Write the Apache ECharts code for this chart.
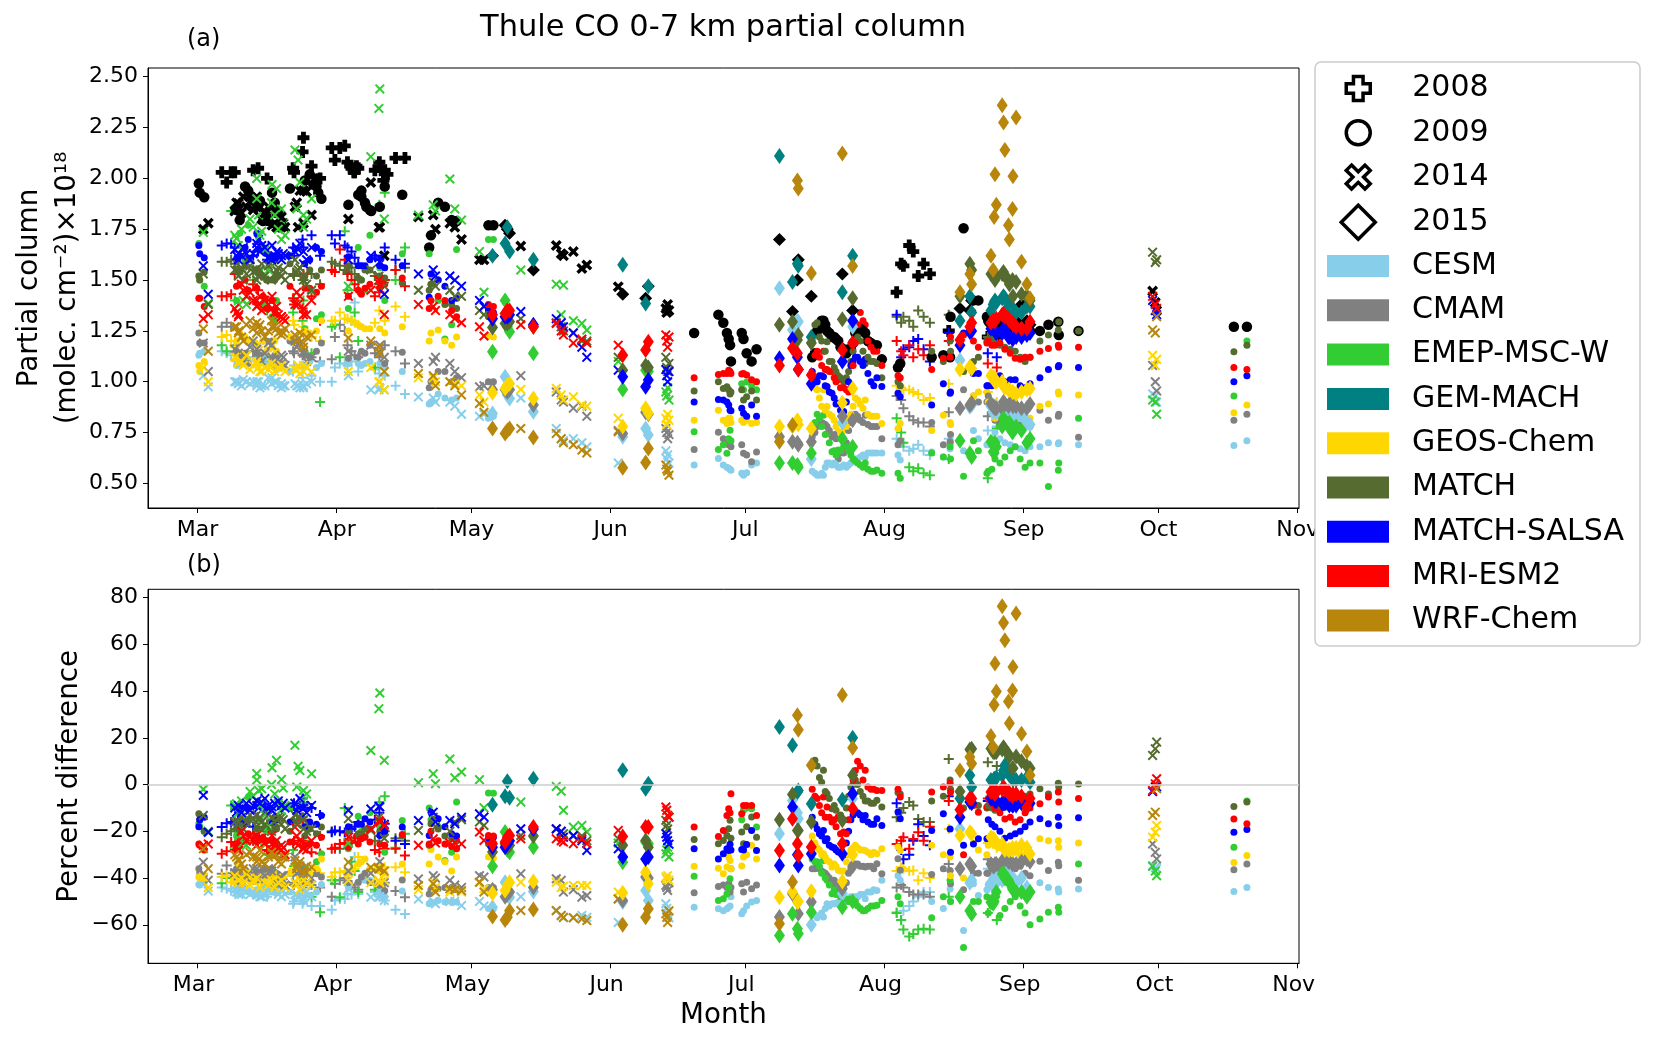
<!DOCTYPE html>
<html><head><meta charset="utf-8">
<style>html,body{margin:0;padding:0;background:#fff}#c{width:1656px;height:1037px}</style>
<script src="https://cdn.jsdelivr.net/npm/echarts@6/dist/echarts.min.js"></script>
</head><body><div id="c"></div>
<script>
const monthTicks=[60,91,121,152,182,213,244,274,305];
const monthLabels=['Mar','Apr','May','Jun','Jul','Aug','Sep','Oct','Nov'];
const ticksA=[0.5,0.75,1,1.25,1.5,1.75,2,2.25,2.5];
const ticksB=[-60,-40,-20,0,20,40,60,80];
const years=[2008,2009,2014,2015];
const models=['CESM','CMAM','EMEP-MSC-W','GEM-MACH','GEOS-Chem','MATCH','MATCH-SALSA','MRI-ESM2','WRF-Chem'];
const colors=['#87ceeb','#808080','#32cd32','#008080','#ffd700','#556b2f','#0000ff','#ff0000','#b8860b'];

// 2008
const days08=[65.4,66.5,67.5,68.3,72.4,73.5,75.5,81.3,81.5,83.4,83.6,85.4,87.3,89.9,90.6,91.7,92.8,93.4,94.3,95,95.8,99.5,100.5,101.7,104.1,106.2,215.7,216.7,217.2,218.5,219.4,220.5,221.7,223.1,227.3,236,238];
const obs08=[2.03,1.98,2.03,2.03,2.04,2.05,2,2.05,2.03,2.13,2.2,2.06,2,2.15,2.09,2.15,2.16,2.08,2.05,2.03,2.05,2.04,2.08,2.04,2.1,2.1,1.44,1.58,1.57,1.67,1.64,1.52,1.58,1.53,1.25,1.22,1.22];
const cesmA08=[1.15,1.14,1.13,1.11,1.12,1.1,1.1,1.05,1.08,1.02,1.08,1.03,1,1,1.07,1.09,1.09,1.08,1.1,1.39,1.05,1.06,1.04,1.03,.98,.94,.72,.7,.68,.66,.67,.69,.66,.64,.72,.76,.78];
const cmamA08=[1.27,1.29,1.27,1.18,1.15,1.14,1.12,1.15,1.14,1.13,1.15,1.12,1.1,1.11,1.22,1.28,1.25,1.18,1.15,1.13,1.12,1.14,1.12,1.18,1.15,1.09,.93,.91,.87,.83,.81,.8,.8,.78,.85,.83,.82];
const emepA08=[1.18,1.15,1.84,1.4,1.5,1.55,1.35,1.34,1.4,1.3,1.4,1.14,.9,1.27,1.28,1.12,1.74,1.45,1.3,1.34,1.2,1.07,1.87,1.93,1.5,1.66,.82,.75,.7,.58,.56,.575,.55,.54,.62,.525,.77];
const geosA08=[1.22,1.23,1.2,1.17,1.2,1.17,1.15,1.3,1.28,1.25,1.27,1.22,1.2,1.3,1.3,1.34,1.31,1.31,1.3,1.29,1.28,1.29,1.35,1.3,1.37,1.32,.98,.97,.96,.96,.95,.94,.91,.92,.99,.95,.9];
const matchA08=[1.59,1.59,1.6,1.58,1.55,1.54,1.56,1.53,1.52,1.5,1.5,1.53,1.48,1.59,1.58,1.57,1.55,1.54,1.56,1.53,1.5,1.52,1.48,1.5,1.55,1.56,1.32,1.29,1.32,1.3,1.27,1.35,1.32,1.29,1.33,1.22,1.2];
const salsaA08=[1.67,1.68,1.68,1.66,1.62,1.64,1.6,1.66,1.62,1.7,1.66,1.72,1.62,1.72,1.68,1.72,1.67,1.66,1.64,1.61,1.58,1.62,1.6,1.66,1.6,1.58,1.33,1.12,1.16,1.17,1.2,1.21,1.16,1.1,1.24,1.14,1.12];
const mriA08=[1.42,1.42,1.43,1.53,1.48,1.45,1.4,1.41,1.38,1.36,1.53,1.42,1.3,1.55,1.54,1.65,1.6,1.53,1.5,1.48,1.45,1.42,1.44,1.5,1.55,1.47,1.2,1.15,1.13,1.18,1.12,1.16,1.13,1.18,1.2,1.09,1.07];
const cesmB08=[-44,-44.6,-45.4,-46,-47,-47,-48,-51,-50,-51,-50,-52,-52,-53.6,-49.6,-49,-49,-46.8,-47,-31,-46.8,-46,-48,-49.6,-53.6,-55.4,-54.6,-58,-54,-52,-50,-48,-46,-46,-37,-36,-37];
const cmamB08=[-38.2,-34.6,-38,-42,-41,-40,-42,-42,-43,-44,-43,-43,-44,-48,-42.5,-41,-40,-42,-43,-44,-45,-43,-44,-42,-45.6,-48.2,-44,-43,-44,-46,-47,-47,-47,-48,-34,-32,-34];
const emepB08=[-42.2,-40,-8.9,-27,-24,-22,-30,-28,-35,-40,-35,-48,-54.6,-41,-41,-48.2,-10,-25,-33,-37,-46,-45,-7.5,-5,-27,-21,-55,-58,-62,-65,-64,-62,-61.7,-62,-48,-55,-58];
const geosB08=[-39.6,-39,-41.8,-41,-39,-41,-40,-36,-37,-37,-38,-36,-38,-39.6,-37.5,-37.5,-37,-38,-36.5,-36,-31,-36,-34,-35.4,-35.4,-37.5,-37,-35.4,-36,-37,-36.8,-41,-38,-40,-19,-25,-27];
const matchB08=[-22.5,-21,-20,-19,-21,-18,-17,-16,-15,-14,-15,-18,-22,-20,-27.5,-27.5,-25,-25,-25,-23,-22,-24,-22,-20,-23,-24,-14,-12,-10,-7.5,-9,-14.7,-16,-16,11,9.6,8];
const salsaB08=[-18.2,-16.5,-16,-17,-18,-14,-12,-9,-8,-6,-9,-10,-13,-20.4,-19.6,-20,-20.5,-20,-19,-18,-16,-15,-12,-16.8,-24,-25.4,-8,-28,-32,-30,-24,-17,-22,-26,-5,-7,-8];
const mriB08=[-29.6,-28.5,-24.6,-28,-24,-25,-28,-25,-24,-15.4,-24,-29,-29.5,-27.5,-27,-25.4,-25,-25,-24,-23,-22,-28,-29,-27.5,-27.5,-30.4,-25.4,-24,-22.5,-27.5,-23.3,-20.4,-24,-18,-7,-6,-8];
const obsDays08x=[94,94.8,95.4,100.9,102.3,101.4];
const obs08x=[2.06,2.03,2.06,2.04,2.02,1.99];

// 2009
const days09=[60.3,60.5,61.5,68.7,69.4,70.6,71.3,73.2,74.6,75.4,76.6,77.2,77.6,80.6,83.9,85,86.5,87.6,93.6,95.8,96.5,97.3,98.4,100.6,101.7,105.6,111.6,112,113.6,115.1,116.6,117.7,124.8,125.9,170.6,176,177.1,177.9,178.3,178.6,178.8,181.2,181.6,182.3,183.4,184.5,199.4,200.2,201.3,202.7,203.9,208.7,211.3,212.4,216,216.5,223.5,226.1,227.6,227.7,230.6,232.8,233.9,235.8,247.6,249.5,251.7,251.8,256.2,290.8,293.7];
const obs09=[1.975,1.93,1.907,1.845,1.795,1.96,1.94,1.88,1.79,1.81,1.93,1.88,1.83,1.95,1.99,2.02,1.96,1.9,1.87,1.92,1.94,1.88,1.845,1.86,1.96,1.92,1.66,1.72,1.88,1.86,1.795,1.79,1.77,1.77,1.24,1.33,1.29,1.24,1.21,1.18,1.1,1.24,1.21,1.14,1.1,1.16,1.3,1.25,1.22,1.2,1.16,1.24,1.18,1.11,1.07,1.09,1.12,1.13,1.12,1.32,1.755,1.4,1.4,1.32,1.25,1.28,1.295,1.23,1.25,1.27,1.27];
const cesmA09=[1.13,1.14,1.15,1.08,1.1,1.14,1.1,1.14,1.12,1.1,1.09,1.07,1.06,1.05,1.08,1.1,1.07,1.09,1.09,1.09,1.08,1.09,1.1,1.09,1.07,1.05,.89,.9,.94,.92,.91,.92,.82,.83,.59,.623,.59,.58,.574,.57,.565,.55,.54,.552,.59,.6,.54,.6,.59,.58,.59,.63,.65,.65,.64,.615,.655,.63,.67,.7,.66,.76,.72,.69,.68,.7,.695,.7,.69,.686,.71];
const cmamA09=[1.24,1.19,1.19,1.15,1.14,1.14,1.09,1.14,1.2,1.2,1.2,1.13,1.12,1.2,1.13,1.12,1.15,1.19,1.115,1.12,1.15,1.14,1.18,1.14,1.09,1.145,.97,1,1.05,1.05,1,1.02,1,1,.667,.751,.72,.697,.69,.7,.68,.69,.648,.64,.607,.655,.795,.78,.73,.62,.65,.835,.78,.72,.69,.71,.8,.69,.705,.74,.96,.93,.9,.9,.86,.81,.83,.84,.727,.81,.84];
const emepA09=[1.68,1.5,1.47,1.4,1.73,1.6,1.77,1.55,1.38,1.5,1.32,1.3,1.4,1.62,1.26,1.45,1.31,1.33,1.36,1.66,1.5,1.45,1.72,1.56,1.4,1.63,1.63,1.48,1.4,1.21,1.28,1.65,1.7,1.7,.754,.667,.69,.648,.72,.762,.71,.99,.96,.999,.98,.96,.835,.746,.656,.664,.68,.6,.566,.55,.55,.525,.65,.63,.68,.62,.535,.71,.66,.55,.6,.485,.565,.6,.82,.93,1.2];
const geosA09=[1.08,1.05,1.1,1.2,1.24,1.22,1.2,1.18,1.2,1.15,1.17,1.2,1.15,1.22,1.25,1.24,1.25,1.3,1.25,1.28,1.27,1.26,1.26,1.26,1.24,1.27,1.2,1.24,1.255,1.2,1.18,1.22,1.225,1.22,.81,.86,.81,.795,.82,.82,.8,.81,.8,.81,.795,.8,.96,.878,.83,.755,.76,.91,.83,.795,.77,.795,.76,.835,.8,.79,1.05,.93,.95,.95,.88,.89,.95,.94,.935,.847,.885];
const matchA09=[1.52,1.5,1.54,1.55,1.54,1.57,1.6,1.55,1.52,1.5,1.5,1.5,1.52,1.58,1.52,1.55,1.52,1.55,1.57,1.51,1.5,1.55,1.55,1.52,1.51,1.485,1.45,1.48,1.5,1.38,1.38,1.36,1.32,1.33,.955,1,.967,.975,.96,.94,.95,.96,.91,.926,.955,.91,1.29,1.197,1.1,1.03,1,1.09,1.09,1.02,1,.98,1.15,1.1,1.2,1.15,1.05,1.1,1.12,1.2,1.2,1.23,1.255,1.295,1.25,1.147,1.18];
const salsaA09=[1.67,1.63,1.61,1.6,1.62,1.66,1.7,1.73,1.66,1.63,1.62,1.6,1.62,1.62,1.58,1.6,1.66,1.64,1.615,1.57,1.57,1.57,1.6,1.57,1.56,1.57,1.415,1.53,1.5,1.47,1.4,1.41,1.35,1.34,.9,.913,.91,.9,.885,.86,.857,.87,.845,.83,.885,.83,1.025,.976,.943,.894,.853,1.11,1.02,.976,.943,.926,.885,.99,.943,.95,1.24,1.04,1.04,.98,1.02,1.06,1.074,1.08,1.07,1,1.03];
const mriA09=[1.41,1.41,1.37,1.47,1.48,1.5,1.45,1.46,1.42,1.36,1.4,1.35,1.33,1.47,1.46,1.46,1.44,1.47,1.42,1.45,1.43,1.46,1.48,1.46,1.48,1.51,1.36,1.4,1.42,1.4,1.35,1.32,1.38,1.37,1.02,1.036,1.04,1.04,1.057,1.05,1.04,1.038,1.04,1.033,1.01,1,1.15,1.06,1.05,1.01,.97,1.28,1.15,1.08,1.03,1.02,1.06,1.115,1.12,1.22,1.23,1.2,1.17,1.19,1.15,1.164,1.18,1.17,1.17,1.07,1.06];
const cesmB09=[-42.8,-43,-42,-44.6,-44,-44,-46,-45,-44,-45,-46,-46,-46,-46,-47,-47.5,-46,-42.8,-44,-42,-40.4,-41,-41,-46,-48,-45.6,-51,-50.3,-49.6,-50.3,-50.3,-50.3,-53,-53.2,-52.5,-53.2,-54,-53.2,-52.5,-52,-48,-55.3,-54,-52,-50.3,-49.6,-56.7,-51,-51,-50.3,-48.9,-48.9,-45.3,-41,-39,-41,-50,-53,-44.7,-50,-62.5,-42.5,-47.5,-45,-42,-44,-44.7,-46,-44.7,-45.8,-44];
const cmamB09=[-36,-38,-39,-36,-37,-37.5,-40,-38,-36,-36,-36,-38,-38,-38,-42,-42,-38.2,-39.6,-42,-41.8,-39.6,-38,-41.8,-43,-45.4,-40.8,-46.8,-45,-44.6,-44,-44,-45,-44,-44,-46.3,-43.6,-43,-44,-42.5,-46,-44,-42.5,-46,-41.8,-44.6,-43,-37.5,-38.9,-42.5,-45.3,-44,-35.3,-33.9,-38.2,-31.7,-36.7,-38.5,-36,-36.8,-42.5,-45,-38,-38,-38,-32.8,-36.8,-33.2,-34.7,-41,-36.5,-34];
const emepB09=[-16.8,-18,-20,-22,-11,-15,-5.4,-15,-25,-20,-30,-30,-25,-10,-36,-25,-33,-29.6,-27.5,-13.6,-20,-22,-12,-18,-29,-15.4,-10,-15,-18,-32.5,-29,-7.5,-3.6,-3.7,-39.2,-49.6,-48.9,-46.8,-44,-40.3,-36,-15,-11,-10,-10.3,-18.2,-32.5,-41,-46.7,-51,-48.9,-53.9,-51.7,-49.6,-48,-51,-57,-48,-41,-50,-69.7,-50,-50,-48,-57.5,-54.6,-52.5,-54.6,-34,-26.8,-7];
const geosB09=[-39.6,-40,-41,-40,-34.6,-37,-40,-41,-40,-39,-40,-38,-40,-38,-39,-38,-36,-31.8,-38,-34,-33,-31.8,-36,-37,-38,-34,-34,-27.8,-31,-33,-37,-31,-31,-31.5,-35,-35.8,-38.2,-35.3,-31,-32.5,-36,-34.9,-31,-30,-26,-31.8,-29.6,-32.5,-35.3,-36.7,-37,-28.2,-29.6,-27.5,-26.7,-28.2,-26,-30,-31,-39,-40,-25,-28,-30,-23.2,-24,-24,-26.8,-25,-33.3,-30.4];
const matchB09=[-12.5,-15,-20,-19,-20,-17,-15,-19,-19,-18,-20,-18,-19,-20,-22,-19,-21,-18.2,-20,-21,-21,-19,-19,-20,-21,-22,-26,-16.8,-19,-22,-23,-24,-25.3,-25,-23.5,-25.3,-23.9,-21.8,-18.9,-15.3,-23,-20.3,-25.3,-18,-13.9,-22.5,6.1,-3.9,-10.3,-13.9,-15,-7,-6.7,-9.6,-3.4,-4,-7,-5,2,-2,-10,-8,-9,-10,-1.8,-4,.6,-1,.3,-9.4,-7.5];
const salsaB09=[-18,-15,-14,-16,-15,-16.8,-10,-8.2,-9,-11,-16,-14,-15,-16,-18,-16,-17,-13.2,-18,-16.8,-17,-14.6,-16,-21.8,-20,-18.2,-21.8,-11.8,-14.6,-18,-21,-22,-23,-22.5,-27.5,-31.8,-29.6,-27.5,-28.2,-25.5,-28,-27.8,-28,-25.6,-19.6,-28.2,-19.6,-23.2,-26.7,-28.9,-30,-13.2,-14.6,-17.5,-11.7,-14.6,-19.7,-12.5,-19,-29,-26,-25.4,-23.2,-23.2,-14.6,-16.8,-14,-17.5,-14.2,-20.4,-19.2];
const mriB09=[-25.4,-26,-28,-25,-24,-24,-21,-22,-23,-24,-24,-26,-27,-24.6,-26,-25.4,-26,-22.5,-26.8,-25.4,-23.2,-22.5,-24.6,-25.4,-26,-21.4,-25.4,-20,-24,-25.4,-26.5,-27.5,-21.8,-22,-18.2,-22.2,-19.6,-13.2,-10.3,-12,-3.9,-12.5,-9,-8.9,-9,-13.2,-5.3,-9.6,-16,-13.9,-20.3,6.1,-2.5,-2.5,-2,-5.3,-3.2,-1,.6,-3.2,-30,-9,-11.8,-9.6,-8.2,-5.3,-3.2,-7.5,-6,-14.7,-16.8];
// 2009, July run
const days09b=[196.9,197.5,198,198.5,199,199.8,200.7,201.8,202.2,203.2,204.5,205,205.5,206,206.5,207,207.6,208.2,209.3,210,210.6];
const obs09b=[1.12,1.14,1.25,1.27,1.3,1.28,1.24,1.22,1.21,1.17,1.14,1.16,1.16,1.19,1.24,1.27,1.26,1.25,1.2,1.19,1.18];
const cesmA09b=[.56,.55,.54,.54,.55,.58,.6,.6,.59,.58,.58,.59,.6,.61,.62,.62,.63,.64,.65,.65,.65];
const cmamA09b=[.73,.75,.78,.8,.8,.79,.76,.74,.72,.65,.7,.76,.8,.82,.84,.83,.81,.8,.79,.78,.78];
const emepA09b=[.78,.8,.84,.82,.78,.74,.7,.66,.64,.66,.68,.66,.64,.62,.61,.6,.59,.58,.57,.56,.56];
const geosA09b=[.98,.97,.96,.92,.88,.86,.84,.81,.78,.75,.78,.82,.84,.88,.92,.91,.89,.87,.84,.83,.83];
const matchA09b=[1.2,1.28,1.29,1.22,1.2,1.15,1.1,1.07,1.05,1.02,1.02,1.05,1.1,1.15,1.2,1.22,1.2,1.15,1.12,1.1,1.1];
const salsaA09b=[1.05,1.02,1,1.03,1.03,.98,.95,.92,.89,.86,.9,1,1.08,1.1,1.12,1.12,1.1,1.08,1.04,1,.98];
const mriA09b=[1.03,1.13,1.15,1.12,1.08,1.06,1.05,1.02,1,.97,.96,.95,.97,1.08,1.19,1.28,1.34,1.3,1.2,1.17,1.15];
const cesmB09b=[-55,-56,-57,-56,-55,-53,-52,-51,-51,-50,-50,-49,-48,-48,-48,-48,-47,-47,-46,-46,-45];
const cmamB09b=[-36,-36,-35,-36,-37,-38,-40,-41,-43,-45,-42,-38,-36,-35,-34,-34,-35,-35,-35,-35,-36];
const emepB09b=[-32,-33,-33,-35,-38,-40,-43,-45,-47,-48,-49,-50,-49,-50,-50,-52,-53,-54,-53,-52,-52];
const geosB09b=[-22,-25,-27,-28,-30,-31,-33,-34,-35,-37,-33,-30,-28,-27,-26,-27,-28,-28,-29,-30,-29];
const matchB09b=[8,10.4,8,3,1,-3,-6,-9,-11,-13,-10,-5,-1,0,2,0,-3,-5,-7,-8,-8];
const salsaB09b=[-14,-17,-19,-21,-22,-24,-26,-27,-28,-29,-25,-20,-15,-13,-12,-12,-13,-15,-16,-17,-17];
const mriB09b=[-2,-5,-6,-9,-12,-14,-14,-15,-18,-21,-21,-15,-5,2,6,10,8,2,-1,-2,-2];
// 2009, late August run
const days09c=[236.1,236.9,237.6,238.7,239.8,241,242.1,243.2,244.3,245.4];
const obs09c=[1.3,1.28,1.26,1.26,1.26,1.25,1.24,1.24,1.24,1.25];
const cesmA09c=[.69,.72,.75,.72,.7,.69,.68,.67,.66,.68];
const cmamA09c=[.93,.85,.81,.8,.8,.81,.8,.79,.78,.78];
const emepA09c=[.56,.57,.62,.6,.63,.66,.68,.62,.58,.6];
const geosA09c=[.9,.88,.82,.84,.84,.84,.83,.82,.8,.82];
const matchA09c=[1.2,1.22,1.25,1.18,1.17,1.16,1.15,1.12,1.1,1.12];
const salsaA09c=[.98,.98,1,1.03,1,1.01,1.01,.98,.97,.99];
const mriA09c=[1.2,1.18,1.18,1.19,1.16,1.14,1.115,1.11,1.12,1.12];
const cesmB09c=[-43,-44,-42,-40,-42,-44,-45,-46,-46,-46];
const cmamB09c=[-38,-36,-35,-36,-37,-38,-36,-35,-38,-39];
const emepB09c=[-55,-52,-50,-56,-53,-50,-48,-52,-55,-60];
const geosB09c=[-26,-25,-26,-27,-28,-28,-29,-30,-30,-29];
const matchB09c=[-9,-10,-11,-10,-9.7,-8,-7,-6,-5,-4];
const salsaB09c=[-15,-17,-18,-20,-23,-22,-21,-20,-18,-16];
const mriB09c=[-6,-8,-10,-12,-14.7,-14,-16,-15,-12,-10];
const obsDays09x=[72,73.9,75.8,78,85.8,86.5,86.9,96.5,97.6,98.7];
const obs09x=[1.91,1.89,1.79,1.84,1.97,2,1.93,1.91,1.86,1.84];

// 2014
const days14=[61.3,62.4,68.7,69.2,73.2,73.6,74.3,76.6,77.6,78.7,79.1,81.7,82.4,83.6,85.4,93.6,98.6,100.4,100.6,101.6,109.2,112.5,113,116.2,117.3,118.8,122.8,123.8,132,139.9,141,141.5,143.7,145.6,146.7,153.7,164.3,164.5,164.7,165,272.7,273.3,273.6];
const obs14=[1.75,1.78,1.88,1.85,1.87,1.85,1.8,1.77,1.76,1.76,1.78,1.86,1.76,1.94,1.82,1.8,1.98,1.76,1.76,1.62,1.81,1.82,1.75,1.78,1.76,1.7,1.6,1.6,1.667,1.67,1.63,1.62,1.64,1.557,1.574,1.467,1.36,1.34,1.38,1.35,1.446,1.39,1.35];
const cesmA14=[1.03,.975,1,.995,1,1,.98,1.02,1,.99,.98,.99,.98,.98,1,1.03,.96,.96,.97,.96,.925,.92,.9,.9,.88,.84,.83,.84,.92,.77,.72,.71,.72,.7,.68,.6,.66,.62,.64,.6,.94,.93,.9];
const cmamA14=[1.19,1.05,1.12,1.13,1.14,1.12,1.1,1.12,1.08,1.09,1.12,1.2,1.18,1.15,1.12,1.15,1.18,1.15,1.18,1.12,1.09,1.1,1.12,1.09,1.05,1.02,.975,.98,1.03,.95,.91,.9,.87,.88,.83,.76,.77,.75,.72,.74,1.08,1,.955];
const emepA14=[1.735,1.385,1.705,1.38,2,1.82,1.74,1.97,1.95,1.85,1.78,2.14,2.09,1.82,1.9,1.47,2.107,2.344,2.44,1.8,1.82,1.87,1.84,1.997,1.85,1.795,1.64,1.44,1.55,1.48,1.33,1.475,1.3,1.287,1.254,1.1,.95,.93,.97,.91,.91,.9,.84];
const geosA14=[1.07,1,1.12,1.1,1.09,1.07,1.05,1.09,1.08,1.07,1.07,1.06,1.08,1.05,1.05,1.05,1.07,1,1,.96,1.02,1.02,1,1,.99,.98,.935,.9,.962,.967,.935,.91,.926,.885,.88,.82,.82,.79,.84,.81,1.13,1.08,1.11];
const matchA14=[1.53,1.38,1.58,1.55,1.55,1.52,1.58,1.57,1.55,1.52,1.55,1.6,1.55,1.52,1.45,1.55,1.55,1.52,1.5,1.47,1.45,1.49,1.47,1.45,1.42,1.42,1.35,1.33,1.31,1.29,1.27,1.25,1.24,1.2,1.2,1.12,1.12,1.07,1.05,1.09,1.637,1.587,1.6];
const salsaA14=[1.57,1.43,1.62,1.63,1.66,1.7,1.67,1.67,1.64,1.62,1.63,1.64,1.65,1.58,1.66,1.6,1.62,1.61,1.59,1.43,1.53,1.55,1.52,1.52,1.5,1.47,1.4,1.37,1.345,1.31,1.29,1.27,1.24,1.17,1.12,1.057,1.06,1.03,1,1.05,1.4,1.35,1.33];
const mriA14=[1.31,1.33,1.34,1.33,1.4,1.38,1.35,1.42,1.37,1.32,1.31,1.38,1.38,1.33,1.4,1.42,1.45,1.5,1.48,1.33,1.38,1.37,1.35,1.33,1.31,1.29,1.27,1.225,1.28,1.287,1.25,1.23,1.19,1.21,1.19,1.18,1.23,1.2,1.17,1.22,1.42,1.38,1.36];
const wrfA14=[1.26,1.15,1.27,1.25,1.29,1.27,1.25,1.27,1.26,1.25,1.24,1.23,1.21,1.19,1.23,1.215,1.2,1.17,1.14,1.05,1.04,1.03,.98,1,.98,.935,.893,.85,.77,.746,.72,.7,.69,.664,.65,.754,.59,.57,.56,.54,1.255,1.24,1.32];
const cesmB14=[-42.5,-45.6,-46,-47,-47,-47,-48,-44,-45,-45,-45.4,-47,-48,-49.6,-48,-44.6,-48.2,-48,-48,-49.6,-49,-50,-51,-50,-50,-51.8,-50,-52,-48,-54,-56,-57,-57,-56,-56.8,-59,-51,-53,-55,-57,-34.7,-35.4,-36];
const cmamB14=[-33.2,-41,-38,-38,-36,-38,-38,-38,-40,-39,-39,-31,-34,-36,-40,-37,-38,-36,-33,-42,-40.4,-39,-40,-41,-43,-44,-39,-39.6,-38.2,-40.3,-41,-46,-45,-48.2,-47.5,-49,-43.2,-44,-45.3,-42,-25.4,-29,-31.8];
const emepB14=[-2,-20,-8.2,-22,4.7,-2.5,-1.8,7.2,10.4,2.2,-1.5,16.8,7.8,-2.5,4.6,-25,14.6,32.5,39.2,10.4,.8,4.6,.4,11,2.9,5.4,2.1,-9.9,-7.5,-.8,-2.8,-11,-18.2,-17.5,-20.3,-25,-29.6,-28,-26.8,-31,-35,-37,-39];
const geosB14=[-39.6,-44,-41,-42,-41,-41,-40,-41,-40,-42,-41,-42,-40,-44,-43,-41,-42,-41,-42,-41,-45,-42,-44,-46,-45,-46,-41.8,-44.6,-41.8,-41.8,-44,-43.5,-43.2,-43.2,-43.2,-46,-39.6,-40.5,-39,-41,-22.5,-20.4,-17.5];
const matchB14=[-13.2,-20.4,-15.4,-16,-13,-15,-16,-14,-13,-14,-15,-13,-14,-15,-19,-14.6,-19.6,-14,-16,-23,-19.6,-14,-18,-20,-16,-15,-16,-17.5,-21.8,-19,-20,-21,-22,-22,-24,-23.2,-15.3,-17.5,-19,-13.9,12.5,15.3,18.2];
const salsaB14=[-4.6,-20.4,-11.8,-10.4,-9,-10,-7.5,-9.5,-9,-8.9,-8,-8,-9.5,-8.9,-8.9,-11,-10.4,-9.4,-9.5,-17,-15.4,-11.8,-16,-15.4,-16.8,-14,-12.5,-13.9,-18.9,-18.9,-20,-22.5,-21.8,-24,-28.2,-27.5,-21,-22.5,-24,-25.5,-3,-1,-1];
const mriB14=[-26,-25.4,-26.8,-28.2,-21.8,-23,-23,-21.8,-24,-26,-27,-18.2,-26,-27.5,-24,-22.5,-19,-15.4,-16,-17.5,-26,-23.2,-25,-25,-25,-25.4,-20.3,-23.9,-23.2,-23.2,-24,-24.6,-25.3,-23.2,-25.3,-19.6,-9.6,-11,-13.2,-14,-2.5,.3,2.5];
const wrfB14=[-27.5,-36,-31,-32.5,-31,-32,-33,-30,-30,-30.4,-31,-32.5,-35,-36.8,-35.4,-33.2,-35.4,-36,-36,-37,-43.2,-42.5,-46,-44.6,-45,-45.4,-41.8,-46,-53.9,-53.9,-56,-56.8,-57,-57.5,-58.2,-48.9,-55.3,-56.8,-59,-54,-13.2,-11.8,-1.8];
// 2014, March run
const days14x=[68.3,69.1,69.8,70.2,70.9,71.7,72.4,73.2,73.9,75,75.8,76.5,77.2,78,78.7,79.5,82.1,83.6,82.8,84.3];
const obs14x=[1.84,1.877,1.83,1.91,1.86,1.885,1.845,1.91,1.86,1.83,1.86,1.845,1.78,1.76,1.81,1.76,1.88,1.78,1.94,1.935];
const cesmA14x=[1,.99,.98,1.01,1,.99,1,.98,.97,.98,1.02,.99,1,.98,.97,.98,.98,.97,.97,.99];
const cmamA14x=[1.16,1.14,1.12,1.1,1.13,1.17,1.2,1.16,1.12,1.14,1.19,1.18,1.1,1.09,1.13,1.08,1.17,1.14,1.19,1.1];
const emepA14x=[1.72,1.67,1.75,1.4,1.38,1.8,1.76,1.9,1.72,1.65,1.55,1.88,1.82,1.75,1.7,1.72,1.85,1.76,1.98,1.8];
const geosA14x=[1.12,1.09,1.1,1.08,1.13,1.06,1.08,1.1,1.05,1.07,1.06,1.09,1.05,1.07,1.08,1.05,1.06,1.08,1.04,1.07];
const matchA14x=[1.55,1.52,1.56,1.5,1.53,1.57,1.54,1.5,1.55,1.52,1.57,1.5,1.53,1.56,1.52,1.5,1.54,1.5,1.56,1.48];
const salsaA14x=[1.65,1.6,1.62,1.66,1.63,1.6,1.63,1.68,1.64,1.66,1.61,1.6,1.62,1.63,1.6,1.62,1.66,1.64,1.68,1.6];
const mriA14x=[1.36,1.32,1.48,1.45,1.42,1.44,1.4,1.37,1.42,1.4,1.38,1.36,1.34,1.33,1.32,1.3,1.44,1.36,1.42,1.33];
const wrfA14x=[1.27,1.24,1.22,1.2,1.28,1.3,1.26,1.24,1.28,1.22,1.25,1.3,1.27,1.24,1.23,1.26,1.2,1.17,1.24,1.22];
const cesmB14x=[-45,-46,-47,-45,-46,-47,-46,-47,-48,-47,-44,-46,-45,-47,-48,-47,-47,-48,-48,-46];
const cmamB14x=[-38,-39,-41,-42,-40,-37,-36,-38,-41,-39,-36,-37,-42,-43,-40,-43,-38,-40,-37,-42];
const emepB14x=[-9,-12,-7,-25,-26,-3,-5,2,-9,-13,-18,0,-4,-8,-11,-9,-1,-7,6,-4];
const geosB14x=[-39,-41,-40,-42,-38,-43,-41,-40,-44,-42,-43,-41,-44,-42,-41,-44,-43,-41,-45,-42];
const matchB14x=[-16,-18,-14,-19,-16,-13,-15,-18,-14,-17,-13,-20,-16,-14,-17,-19,-17,-19,-14,-20];
const salsaB14x=[-10,-9,-12,-10,-8,-11,-9,-7,-8,-6,-9,-11,-8,-7,-9,-10,-11,-10,-6,-12];
const mriB14x=[-27,-28,-20,-22,-24,-22,-24,-26,-23,-25,-27,-28,-26,-27,-28,-30,-22,-27,-24,-28];
const wrfB14x=[-30,-32,-34,-36,-30,-29,-31,-33,-28,-34,-31,-29,-30,-33,-34,-31,-36,-38,-33,-35];

// 2015
const days15=[125.7,128.5,129,129.5,134.8,154.7,159.8,160.4,189.6,192.5,193.6,193.8,196.7,203.6,205.9,229.8,232,232.4,236.7,237.2,237.4,237.6,237.9,239.2,239.5,239.8,240.6,240.8,241.5,241.6,242.3,243.5,244.7,245.4];
const obs15=[1.62,1.77,1.75,1.73,1.55,1.43,1.41,1.47,1.7,1.345,1.5,1.6,1.42,1.53,1.35,1.36,1.35,1.4,1.28,1.3,1.3,1.3,1.28,1.3,1.32,1.33,1.27,1.28,1.25,1.26,1.3,1.38,1.3,1.28];
const cesmA15=[.844,1.024,.935,.918,.852,.73,.77,.738,1.46,1.254,1.3,1.295,.62,.8,1.27,1.106,.877,.885,.88,.85,.87,.88,.85,.86,.9,.88,.87,.85,.83,.84,.82,.836,.8,.79];
const cmamA15=[.96,.96,.95,.96,.885,.746,.85,.84,.73,.705,.7,.69,.705,.83,.81,.87,.885,.895,.893,.88,.875,.87,.87,.87,.9,.89,.88,.89,.9,.88,.88,.87,.87,.89];
const emepA15=[1.147,1.4,1.27,1.246,1.14,.962,1.057,1.05,.6,.6,.59,.58,.648,.72,.68,.71,.648,.63,.705,.656,.65,.7,.68,.78,.82,.8,.78,.8,.75,.77,.78,.76,.7,.72];
const gemA15=[1.62,1.68,1.76,1.64,1.6,1.575,1.385,1.47,2.11,1.49,1.58,1.57,1.22,1.44,1.62,1.3,1.42,1.34,1.35,1.38,1.39,1.4,1.39,1.41,1.42,1.41,1.38,1.37,1.35,1.36,1.34,1.34,1.37,1.37];
const geosA15=[.946,.967,.983,.99,.918,.78,.87,.845,.78,.78,.81,.79,.77,.897,.967,1.06,1.074,1.065,1.03,1.02,1.02,1,1,1,.98,.97,.96,.96,.95,.95,.94,.95,.96,.967];
const matchA15=[1.267,1.287,1.287,1.295,1.27,1.057,1.08,1.07,1.28,1.295,1.205,1.23,1.19,1.307,1.41,1.42,1.58,1.55,1.53,1.53,1.52,1.5,1.52,1.53,1.54,1.52,1.5,1.48,1.5,1.42,1.49,1.43,1.42,1.4];
const salsaA15=[1.31,1.32,1.32,1.33,1.28,1.024,.975,1.008,1.115,1.21,1.12,1.06,.99,1.1,1.3,1.18,1.245,1.25,1.26,1.26,1.26,1.25,1.24,1.24,1.26,1.25,1.22,1.22,1.21,1.21,1.22,1.22,1.23,1.24];
const mriA15=[1.33,1.336,1.35,1.35,1.27,1.13,1.156,1.197,1.08,1.165,1.14,1.06,1.033,1.156,1.19,1.205,1.27,1.29,1.29,1.3,1.3,1.3,1.31,1.33,1.336,1.32,1.31,1.3,1.29,1.28,1.27,1.26,1.26,1.295];
const wrfA15=[.77,.746,.76,.77,.726,.577,.603,.672,.705,.787,1.99,1.95,1.533,2.123,1.569,1.44,1.53,1.48,1.62,1.55,1.81,2.02,1.87,2.36,2.275,2.14,1.77,1.7,1.85,2.01,2.3,1.59,1.48,1.41];
const cesmB15=[-52.5,-41.8,-47.5,-48.2,-45.8,-50.3,-45.3,-49.6,-21,-6.8,-12,-14.6,-60,-46.7,-6,-19,-42,-41,-42,-42,-40,-40,-42,-41,-38,-37,-38,-40,-41,-40,-42,-40,-44,-46];
const cmamB15=[-45,-48,-46.8,-46,-44,-49.6,-39.6,-40,-56.7,-46.7,-50,-55.3,-50.3,-44.6,-35,-36,-34,-35,-34,-35,-35,-34,-34,-33,-32,-32,-33,-33,-34,-34,-34,-33,-32,-33];
const emepB15=[-35,-20.3,-28,-29,-26.8,-33.2,-24.6,-25.3,-64.6,-55.3,-61.7,-63.9,-54.6,-52.5,-50,-48,-54,-55.4,-50.4,-51,-50,-48,-46,-38.2,-38,-40,-41,-42,-44,-45,-46,-46,-48,-46];
const gemB15=[-8.6,-5,1.4,-5.6,2.5,6.1,-1.8,.4,24.7,16.8,-3.2,-2.5,-8.2,-6.5,20,-6,4,-1,2,1,2.5,2.5,3,4,6,8.3,5,4,3,2,2,2,3,1];
const geosB15=[-46.5,-45.3,-43.2,-41.8,-41.5,-46.3,-37.5,-42.5,-48.2,-46,-50.3,-50,-45.7,-41.5,-30,-21.8,-20.4,-21,-22.5,-23,-23.5,-24,-25,-25.5,-26.8,-28,-28,-28,-27,-28,-27,-26,-27,-29.7];
const matchB15=[-28.9,-25.3,-26.8,-26,-22,-26,-23.9,-26.8,-15,-4.2,-19.6,-19.6,-16,-15.3,4,-3,15,15.3,15.4,14,14,14,14,15,16,15,13,12,7,7,12,10,8,7];
const salsaB15=[-26.8,-26.8,-25.3,-24,-19,-31,-31.8,-31,-34.6,-9.6,-30,-34.6,-29.6,-29.6,-3.9,-14,-7.5,-8,-6,-6,-6,-7,-7,-8,-8,-8,-8,-9,-9,-9,-9,-8,-8,-8];
const mriB15=[-25.3,-24.6,-22.5,-21.8,-18.2,-22.2,-18.2,-18.2,-28.2,-14.6,-25.3,-30.3,-26.7,-25.3,-10.3,-10.8,-6,-6,-3.2,-3,-3.5,-4,-3,-2,-1,-2,-3,-4,-5,-4,-4,-5,-9.7,-6];
const wrfB15=[-56.5,-58,-56.8,-54,-53.5,-60,-56.8,-53.2,-59.6,-41.7,29.7,23.5,8.3,38.3,15.8,6,11.8,9,20.8,16,34.2,51.8,39.9,76.3,69.3,61.8,35.6,26.3,40.3,50.3,73.2,21.8,14.2,4];

const tbl=(c,m,e,g,gs,ma,sa,mr,w)=>({'CESM':c,'CMAM':m,'EMEP-MSC-W':e,'GEM-MACH':g,'GEOS-Chem':gs,'MATCH':ma,'MATCH-SALSA':sa,'MRI-ESM2':mr,'WRF-Chem':w});
const batches=[
 {year:2008,days:days08,obs:obs08,A:tbl(cesmA08,cmamA08,emepA08,null,geosA08,matchA08,salsaA08,mriA08,null),B:tbl(cesmB08,cmamB08,emepB08,null,geosB08,matchB08,salsaB08,mriB08,null)},
 {year:2008,days:obsDays08x,obs:obs08x},
 {year:2009,days:days09,obs:obs09,A:tbl(cesmA09,cmamA09,emepA09,null,geosA09,matchA09,salsaA09,mriA09,null),B:tbl(cesmB09,cmamB09,emepB09,null,geosB09,matchB09,salsaB09,mriB09,null)},
 {year:2009,days:days09b,obs:obs09b,A:tbl(cesmA09b,cmamA09b,emepA09b,null,geosA09b,matchA09b,salsaA09b,mriA09b,null),B:tbl(cesmB09b,cmamB09b,emepB09b,null,geosB09b,matchB09b,salsaB09b,mriB09b,null)},
 {year:2009,days:days09c,obs:obs09c,A:tbl(cesmA09c,cmamA09c,emepA09c,null,geosA09c,matchA09c,salsaA09c,mriA09c,null),B:tbl(cesmB09c,cmamB09c,emepB09c,null,geosB09c,matchB09c,salsaB09c,mriB09c,null)},
 {year:2009,days:obsDays09x,obs:obs09x},
 {year:2014,days:days14,obs:obs14,A:tbl(cesmA14,cmamA14,emepA14,null,geosA14,matchA14,salsaA14,mriA14,wrfA14),B:tbl(cesmB14,cmamB14,emepB14,null,geosB14,matchB14,salsaB14,mriB14,wrfB14)},
 {year:2014,days:days14x,obs:obs14x,A:tbl(cesmA14x,cmamA14x,emepA14x,null,geosA14x,matchA14x,salsaA14x,mriA14x,wrfA14x),B:tbl(cesmB14x,cmamB14x,emepB14x,null,geosB14x,matchB14x,salsaB14x,mriB14x,wrfB14x)},
 {year:2015,days:days15,obs:obs15,A:tbl(cesmA15,cmamA15,emepA15,gemA15,geosA15,matchA15,salsaA15,mriA15,wrfA15),B:tbl(cesmB15,cmamB15,emepB15,gemB15,geosB15,matchB15,salsaB15,mriB15,wrfB15)}];

const P_THIN='path://M40 0H60V40H100V60H60V100H40V60H0V40H40Z';
const X_THIN='path://M14 0L50 36L86 0L100 14L64 50L100 86L86 100L50 64L14 100L0 86L36 50L0 14Z';
const P_BOLD='path://M30 0H70V30H100V70H70V100H30V70H0V30H30Z';
const X_BOLD='path://M22 0L50 28L78 0L100 22L72 50L100 78L78 100L50 72L22 100L0 78L28 50L0 22Z';
const D_WIDE='path://M50 0L100 50L50 100L0 50Z';
const modelMark={2008:[P_THIN,10],2009:['circle',7],2014:[X_THIN,10],2015:['diamond',[11,16]]};
const obsMark={2008:[P_BOLD,12],2009:['circle',10.5],2014:[X_BOLD,11],2015:[D_WIDE,13]};
const zip=(xs,ys)=>xs.map((x,i)=>[x,ys[i]]).filter(p=>p[1]!==undefined);

const series=[];
series.push({name:'zero',type:'scatter',xAxisIndex:1,yAxisIndex:1,data:[],silent:true,
  markLine:{silent:true,symbol:'none',animation:false,label:{show:false},lineStyle:{color:'#cccccc',width:1.5,type:'solid',opacity:1},data:[{yAxis:0}]}});
years.forEach(y=>series.push({name:String(y),type:'scatter',xAxisIndex:0,yAxisIndex:0,data:[]}));
batches.forEach(b=>{
  const y=b.year;
  series.push({name:'Observed '+y,type:'scatter',xAxisIndex:0,yAxisIndex:0,silent:true,
    symbol:obsMark[y][0],symbolSize:obsMark[y][1],itemStyle:{color:'#000',opacity:1},data:zip(b.days,b.obs)});
  if(!b.A)return;
  models.forEach((m,mi)=>{
    if(!b.A[m])return;
    const st={type:'scatter',name:m,silent:true,symbol:modelMark[y][0],symbolSize:modelMark[y][1],itemStyle:{color:colors[mi],opacity:1}};
    series.push({...st,xAxisIndex:0,yAxisIndex:0,data:zip(b.days,b.A[m])});
    series.push({...st,xAxisIndex:1,yAxisIndex:1,data:zip(b.days,b.B[m])});
  });
});

const FONT='DejaVu Sans';
const xAx=(idx,pad,extra)=>Object.assign({type:'value',gridIndex:idx,min:48.98,max:305.3,splitLine:{show:false},
  axisLine:{show:true,onZero:false,lineStyle:{color:'#000',width:1}},
  axisTick:{show:true,length:5,customValues:monthTicks,lineStyle:{color:'#000',width:1}},
  axisLabel:{customValues:monthTicks,margin:11,fontSize:22,fontFamily:FONT,color:'#000',padding:pad,showMinLabel:true,showMaxLabel:true,hideOverlap:false,
    formatter:v=>monthLabels[monthTicks.indexOf(v)]||''}},extra||{});
const yAx=(idx,ticks,min,max,fmt,name,gap,lh)=>({type:'value',gridIndex:idx,min,max,splitLine:{show:false},
  axisLine:{show:true,onZero:false,lineStyle:{color:'#000',width:1}},
  axisTick:{show:true,length:5,customValues:ticks,lineStyle:{color:'#000',width:1}},
  axisLabel:{customValues:ticks,margin:10,fontSize:22,fontFamily:FONT,color:'#000',padding:[3,0,0,0],formatter:fmt,showMinLabel:true,showMaxLabel:true,hideOverlap:false},
  name,nameLocation:'middle',nameGap:gap,nameRotate:90,nameMoveOverlap:false,nameTextStyle:{fontSize:27.8,fontFamily:FONT,color:'#000',lineHeight:lh}});

const leg=(left,top,h,gap,items)=>({orient:'vertical',left,top,itemWidth:62,itemHeight:h,itemGap:gap,padding:0,z:30,selectedMode:false,
  textStyle:{fontSize:30,fontFamily:FONT,color:'#000',padding:[0,0,0,18]},data:items});
const yearItem=(y,icon)=>({name:String(y),icon,itemStyle:{color:'#fff',borderColor:'#000',borderWidth:3.5,opacity:1}});

const option={animation:false,backgroundColor:'#fff',
 title:[
  {text:'Thule CO 0-7 km partial column',left:718,top:8,textAlign:'center',textStyle:{fontSize:30.5,fontWeight:'normal',fontFamily:FONT,color:'#000'}},
  {text:'(a)',left:182,top:23,textStyle:{fontSize:24,fontWeight:'normal',fontFamily:FONT,color:'#000'}},
  {text:'(b)',left:182,top:549,textStyle:{fontSize:24,fontWeight:'normal',fontFamily:FONT,color:'#000'}}],
 grid:[
  {left:148,top:68,width:1151,height:440,show:true,borderColor:'#000',borderWidth:1,backgroundColor:'transparent',outerBoundsMode:'none'},
  {left:148,top:589.3,width:1151,height:374,show:true,borderColor:'#000',borderWidth:1,backgroundColor:'transparent',outerBoundsMode:'none'}],
 xAxis:[xAx(0,[0,0,0,0]),xAx(1,[0,8,0,0],{name:'Month',nameLocation:'middle',nameGap:39,nameMoveOverlap:false,nameTextStyle:{fontSize:27.7,fontFamily:FONT,color:'#000'}})],
 yAxis:[
  yAx(0,ticksA,0.379,2.543,v=>v.toFixed(2),'Partial column\n(molec. cm⁻²)×10¹⁸',61,38),
  yAx(1,ticksB,-76.5,83.6,v=>v<0?'\u2212'+Math.abs(v):String(v),'Percent difference',63,30)],
 legend:[
  leg(1344.5,73.5,24,14.3,[yearItem(2008,P_BOLD),yearItem(2009,'circle'),yearItem(2014,X_BOLD)]),
  leg(1339.5,203.5,34,0,[yearItem(2015,D_WIDE)]),
  leg(1327,251,22,14.3,models.map((m,i)=>({name:m,icon:'rect',itemStyle:{color:colors[i],opacity:1}})))],
 graphic:[{type:'rect',z:20,silent:true,shape:{x:1315,y:62,width:325,height:584,r:6},style:{fill:'#fff',stroke:'#cccccc',lineWidth:1.5}}],
 series};
const chart=echarts.init(document.getElementById('c'),null,{renderer:'canvas'});
chart.setOption(option);
</script></body></html>
